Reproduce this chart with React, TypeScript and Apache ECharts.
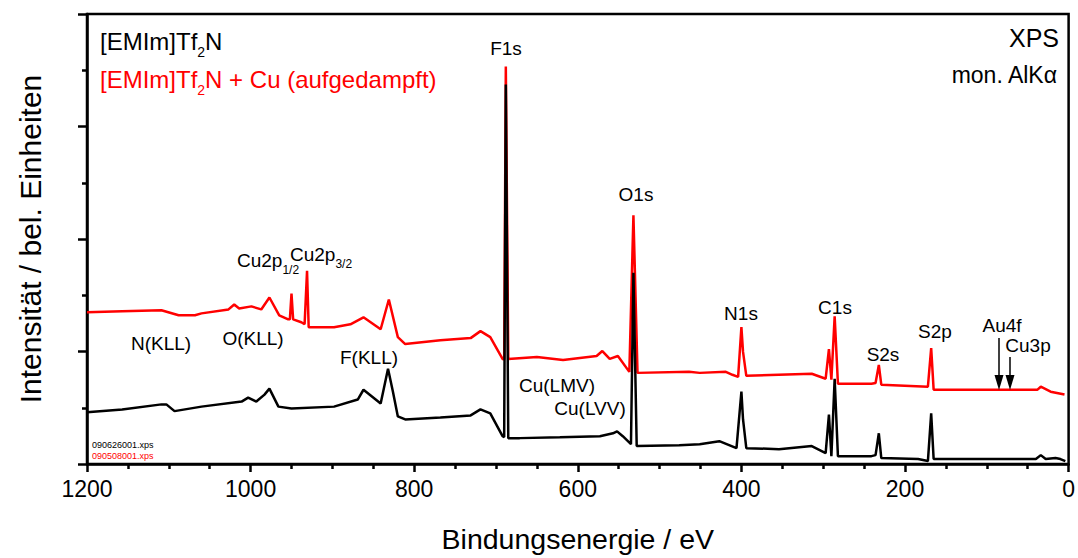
import React, { useEffect, useRef } from "react";
import * as echarts from "echarts";

const FONT = "'Liberation Sans', Arial, Helvetica, sans-serif";

// Binding energy (eV) and intensity (arb. units)
const blackEnergy = [1200, 1157, 1109, 1103, 1093, 1060, 1011, 1003, 993, 983, 977, 966, 950, 898, 869, 862, 841, 832, 826, 820, 811, 768, 731, 719, 707, 692, 690, 688, 685, 671, 622, 573, 557, 552, 545, 535, 532, 528, 476, 451, 427, 406, 400, 398, 394, 354, 314, 297, 293, 290, 286, 282, 241, 236, 232, 229, 184, 172, 168, 165, 86, 40, 34, 28, 16, 10, 4];
const blackCounts = [46, 48.5, 53, 53, 47, 51, 55.5, 59, 55.5, 61.7, 67, 51, 49.3, 51, 57.3, 66, 53.7, 84.6, 64.3, 42.3, 39.6, 41.4, 43.2, 48.5, 45, 24.7, 24, 337.4, 23, 23, 23.8, 24.7, 27.3, 29, 24.7, 17.6, 170, 16, 16.7, 17.6, 20.3, 14.1, 64.3, 39.6, 14.1, 13.2, 15.9, 9.7, 44, 7, 75.8, 7, 7, 7.9, 27.3, 5.3, 4.4, 2.6, 45, 4.4, 4.4, 4.4, 7.9, 4.4, 5.3, 4.4, 2.6];

const redEnergy = [1200, 1157, 1109, 1088, 1068, 1060, 1027, 1020, 1014, 999, 987, 977, 965, 954, 952, 950, 948, 938, 934, 931, 929, 898, 878, 862, 841, 831, 820, 811, 768, 731, 719, 707, 692, 690, 688, 685, 650, 618, 577, 570, 561, 551, 537, 532, 527, 464, 451, 419, 411, 404, 400, 398, 394, 314, 297, 293, 290, 286, 282, 241, 236, 232, 229, 172, 168, 165, 38, 34, 22, 5];
const redCounts = [134.8, 135.7, 136.6, 132.2, 132.2, 133.9, 137.4, 141.8, 138.3, 140.1, 137.4, 148, 132.2, 128.6, 128.6, 151.5, 128.6, 126, 124.2, 171.8, 121.6, 121.6, 124.2, 130.4, 119.8, 146.2, 112.8, 106.6, 110.1, 111.9, 118.1, 112.8, 93.4, 93, 353.3, 93.4, 95.1, 92.5, 96, 100.4, 93.4, 96, 81.9, 221.1, 81, 81.9, 81, 81.9, 79.3, 77.5, 121.6, 99.6, 78.4, 80.2, 75.8, 102.2, 74.9, 131.3, 71.4, 71.4, 72, 88.1, 70.5, 68.7, 103.1, 66.1, 66.1, 68.7, 64.3, 61.7];

const xTicks = { min: 0, max: 1200, interval: 200 };
const yTicks = { min: 0, max: 400, interval: 100 };

const legendBlack = "[EMIm]Tf|2|N";
const legendRed = "[EMIm]Tf|2|N + Cu (aufgedampft)";
const fileBlack = "090626001.xps";
const fileRed = "090508001.xps";

function plain(x: number, y: number, text: string, size: number, align = "center", color = "#000") {
  return {
    type: "text",
    x,
    y,
    z: 100,
    style: {
      text,
      fontSize: size,
      fontFamily: FONT,
      fill: color,
      align,
      textAlign: align,
      verticalAlign: "middle",
      textVerticalAlign: "middle",
    },
  };
}

function withSub(x: number, y: number, parts: string, size: number, subSize: number, pad: number, color = "#000") {
  const [a, s, b] = parts.split("|");
  const text = `{m|${a}}{s|${s}}` + (b ? `{m|${b}}` : "");
  return {
    type: "text",
    x,
    y: y + pad / 2,
    z: 100,
    style: {
      text,
      fontFamily: FONT,
      fontSize: size,
      fill: color,
      align: "left",
      textAlign: "left",
      verticalAlign: "middle",
      textVerticalAlign: "middle",
      rich: {
        m: { fontSize: size, fontFamily: FONT, fill: color, padding: [0, 0, pad, 0] },
        s: { fontSize: subSize, fontFamily: FONT, fill: color, verticalAlign: "bottom" },
      },
    },
  };
}

function arrow(x: number, y0: number, y1: number) {
  return [
    { type: "line", z: 100, shape: { x1: x, y1: y0, x2: x, y2: y1 - 12 }, style: { stroke: "#000", lineWidth: 1.5 } },
    { type: "polygon", z: 100, shape: { points: [[x - 4.5, y1 - 15], [x + 4.5, y1 - 15], [x, y1]] }, style: { fill: "#000" } },
  ];
}

export default function App() {
  const ref = useRef<HTMLDivElement>(null);
  useEffect(() => {
    if (!ref.current) return;
    const chart = echarts.init(ref.current, undefined, { renderer: "svg" });
    const black = blackEnergy.map((e, i) => [e, blackCounts[i]]);
    const red = redEnergy.map((e, i) => [e, redCounts[i]]);
    chart.setOption({
      animation: false,
      backgroundColor: "#fff",
      textStyle: { fontFamily: FONT },
      grid: { left: 87, right: 8, top: 14, bottom: 90, show: true, borderColor: "#000", borderWidth: 2.5, backgroundColor: "transparent" },
      xAxis: {
        type: "value",
        inverse: true,
        min: xTicks.min,
        max: xTicks.max,
        interval: xTicks.interval,
        name: "Bindungsenergie / eV",
        nameLocation: "middle",
        nameGap: 60,
        nameTextStyle: { fontSize: 28.5, color: "#000", fontFamily: FONT },
        axisLine: { onZero: false, lineStyle: { color: "#000", width: 2.5 } },
        axisTick: { length: 8, lineStyle: { color: "#000", width: 2.5 } },
        minorTick: { show: true, splitNumber: 4, length: 5, lineStyle: { color: "#000", width: 2.5 } },
        axisLabel: { fontSize: 23, color: "#000", margin: 13, fontFamily: FONT, formatter: (v: number) => String(v) },
        splitLine: { show: false },
      },
      yAxis: {
        type: "value",
        position: "left",
        min: yTicks.min,
        max: yTicks.max,
        interval: yTicks.interval,
        name: "Intensität / bel. Einheiten",
        nameLocation: "middle",
        nameGap: 42,
        nameTextStyle: { fontSize: 30, color: "#000", fontFamily: FONT },
        axisLine: { onZero: false, lineStyle: { color: "#000", width: 2.5 } },
        axisTick: { length: 9, lineStyle: { color: "#000", width: 2.5 } },
        minorTick: { show: true, splitNumber: 2, length: 5, lineStyle: { color: "#000", width: 2.5 } },
        axisLabel: { show: false },
        splitLine: { show: false },
      },
      series: [
        { type: "line", data: red, showSymbol: false, lineStyle: { color: "#ff0000", width: 2.5 }, itemStyle: { color: "#ff0000" } },
        { type: "line", data: black, showSymbol: false, lineStyle: { color: "#000", width: 2.5 }, itemStyle: { color: "#000" } },
      ],
      graphic: [
        withSub(100, 41, legendBlack, 24, 14, 6, "#000"),
        withSub(100, 79, legendRed, 24, 14, 6, "#ff0000"),
        plain(1059, 38, "XPS", 25, "right"),
        plain(1057, 75, "mon. AlKα", 23, "right"),
        plain(506, 48, "F1s", 19),
        plain(636, 194, "O1s", 19),
        plain(161, 343, "N(KLL)", 19),
        plain(253, 338, "O(KLL)", 19),
        plain(369, 357, "F(KLL)", 19),
        plain(557, 385, "Cu(LMV)", 19),
        plain(590, 408, "Cu(LVV)", 19),
        plain(741, 313, "N1s", 19),
        plain(835, 307, "C1s", 19),
        plain(883, 354, "S2s", 19),
        plain(935, 331, "S2p", 19),
        plain(1002, 325, "Au4f", 19),
        plain(1028, 345, "Cu3p", 19),
        withSub(237, 260, "Cu2p|1/2", 19, 12, 6),
        withSub(290, 254, "Cu2p|3/2", 19, 12, 6),
        ...arrow(999, 338, 390),
        ...arrow(1010, 357, 390),
        plain(92, 445, fileBlack, 9, "left"),
        plain(92, 456, fileRed, 9, "left", "#ff0000"),
      ],
    });
    return () => chart.dispose();
  }, []);
  return <div ref={ref} style={{ position: "fixed", left: 0, top: 0, width: 1078, height: 558, background: "#fff" }} />;
}
